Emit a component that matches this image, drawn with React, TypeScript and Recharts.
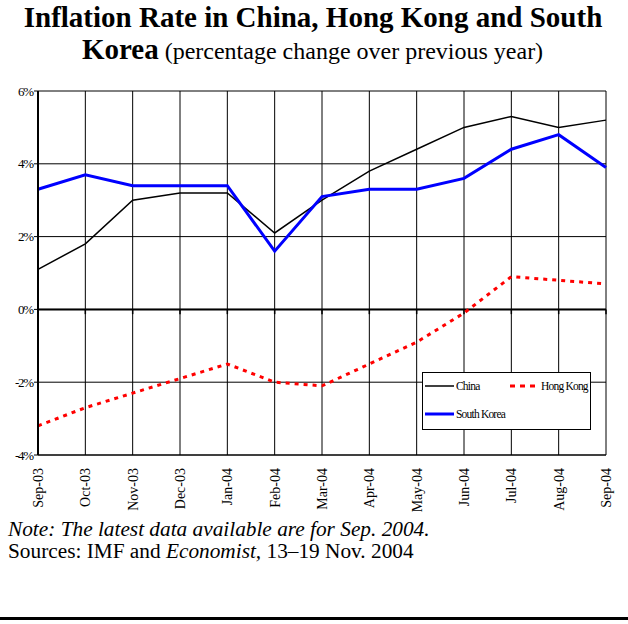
import React from 'react'
import { LineChart, Line, XAxis, YAxis, CartesianGrid, ReferenceLine, Legend } from 'recharts'

const months = ['Sep-03', 'Oct-03', 'Nov-03', 'Dec-03', 'Jan-04', 'Feb-04', 'Mar-04', 'Apr-04', 'May-04', 'Jun-04', 'Jul-04', 'Aug-04', 'Sep-04']
const china = [1.1, 1.8, 3.0, 3.2, 3.2, 2.1, 3.0, 3.8, 4.4, 5.0, 5.3, 5.0, 5.2]
const hongKong = [-3.2, -2.7, -2.3, -1.9, -1.5, -2.0, -2.1, -1.5, -0.9, -0.1, 0.9, 0.8, 0.7]
const southKorea = [3.3, 3.7, 3.4, 3.4, 3.4, 1.6, 3.1, 3.3, 3.3, 3.6, 4.4, 4.8, 3.9]
const yTicks = [-4, -2, 0, 2, 4, 6]

const data = months.map((m, i) => ({ month: m, china: china[i], hk: hongKong[i], korea: southKorea[i] }))

const serif = '"Liberation Serif", "Times New Roman", serif'

function MonthTick({ x, y, payload }: any) {
  return (
    <text
      transform={`translate(${x},${y + 5}) rotate(-90)`}
      textAnchor="end"
      dy="0.35em"
      fontFamily={serif}
      fontSize={14}
      fill="#000"
    >
      {payload.value}
    </text>
  )
}

function LegendBox() {
  const item = (label: string, color: string, dash?: string, width = 2) => (
    <div style={{ display: 'flex', alignItems: 'center' }}>
      <svg width={30} height={6} style={{ display: 'block' }}>
        <line x1={0} y1={3} x2={29} y2={3} stroke={color} strokeWidth={width} strokeDasharray={dash} />
      </svg>
      <span style={{ marginLeft: 1, letterSpacing: -0.8 }}>{label}</span>
    </div>
  )
  return (
    <div
      style={{
        width: 167,
        height: 56,
        border: '1px solid #000',
        background: '#fff',
        fontFamily: serif,
        fontSize: 11.5,
        color: '#000',
        position: 'relative'
      }}
    >
      <div style={{ position: 'absolute', left: 2, top: 7 }}>{item('China', '#000', undefined, 1.5)}</div>
      <div style={{ position: 'absolute', left: 87, top: 7 }}>{item('Hong Kong', '#ff0000', '5 5', 3)}</div>
      <div style={{ position: 'absolute', left: 2, top: 35 }}>{item('South Korea', '#0000ff', undefined, 3)}</div>
    </div>
  )
}

export default function App() {
  return (
    <div style={{ position: 'absolute', left: 0, top: 0, width: 628, height: 624, background: '#fff', overflow: 'hidden' }}>
      {/* Title */}
      <div style={{ position: 'absolute', left: 0, top: 1, width: 628, textAlign: 'center', fontFamily: serif, color: '#000', lineHeight: '32px', fontSize: 29 }}>
        <div style={{ fontWeight: 'bold', marginLeft: -2 }}>Inflation Rate in China, Hong Kong and South</div>
        <div style={{ marginLeft: -3 }}>
          <span style={{ fontWeight: 'bold' }}>Korea</span>
          <span style={{ fontSize: 24 }}> (percentage change over previous year)</span>
        </div>
      </div>

      <div style={{ position: 'absolute', left: 0, top: 0 }}>
        <LineChart width={628} height={515} data={data} margin={{ top: 91, right: 22, bottom: 0, left: 8 }}>
          <CartesianGrid stroke="#000" strokeWidth={1} />
          <XAxis
            dataKey="month"
            interval={0}
            height={60}
            tick={<MonthTick />}
            tickLine={false}
            axisLine={{ stroke: '#000', strokeWidth: 1 }}
          />
          <YAxis
            domain={[-4, 6]}
            ticks={yTicks}
            width={30}
            tickFormatter={(v: number) => `${v}%`}
            tick={{ fontFamily: serif, fontSize: 13, fill: '#000', letterSpacing: -1.2 }}
            tickSize={4}
            tickMargin={1}
            tickLine={{ stroke: '#000' }}
            axisLine={{ stroke: '#000', strokeWidth: 2 }}
          />
          <ReferenceLine y={0} stroke="#000" strokeWidth={2} />
          {months.map(m => (
            <ReferenceLine
              key={m}
              segment={[{ x: m, y: 0 }, { x: m, y: -0.13 }]}
              stroke="#000"
              strokeWidth={1.5}
            />
          ))}
          <Line type="linear" dataKey="china" name="China" stroke="#000" strokeWidth={1.5} dot={false} isAnimationActive={false} />
          <Line type="linear" dataKey="hk" name="Hong Kong" stroke="#ff0000" strokeWidth={3} strokeDasharray="4 5" dot={false} isAnimationActive={false} />
          <Line type="linear" dataKey="korea" name="South Korea" stroke="#0000ff" strokeWidth={3} dot={false} isAnimationActive={false} />
          <Legend
            layout="horizontal"
            verticalAlign="middle"
            align="center"
            content={<LegendBox />}
            wrapperStyle={{ left: 422, top: 372, width: 169, height: 58 }}
          />
        </LineChart>
      </div>

      {/* Footer */}
      <div style={{ position: 'absolute', left: 8, top: 518, fontFamily: serif, fontSize: 21.3, color: '#000', lineHeight: '22px' }}>
        <div style={{ fontStyle: 'italic' }}>Note: The latest data available are for Sep. 2004.</div>
        <div>
          Sources: IMF and <i>Economist,</i> 13–19 Nov. 2004
        </div>
      </div>
      <div style={{ position: 'absolute', left: 0, top: 617, width: 628, height: 3, background: '#000' }} />
    </div>
  )
}
